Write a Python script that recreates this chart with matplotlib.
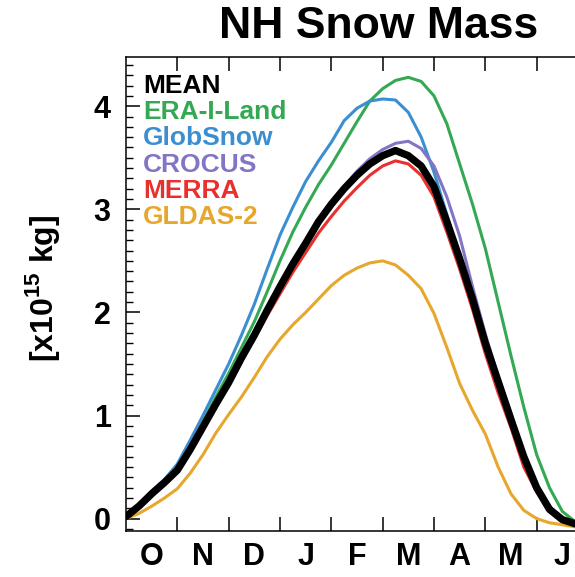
import numpy as np
import matplotlib
matplotlib.use('Agg')
import matplotlib.pyplot as plt
from matplotlib.ticker import MultipleLocator

# Время: месяцы от 1 октября (0 = 1 окт, 9 = 1 июля)
months = [0.0, 0.25, 0.5, 0.75, 1.0, 1.25, 1.5, 1.75, 2.0, 2.25, 2.5, 2.75,
          3.0, 3.25, 3.5, 3.75, 4.0, 4.25, 4.5, 4.75, 5.0, 5.25, 5.5, 5.75,
          6.0, 6.25, 6.5, 6.75, 7.0, 7.25, 7.5, 7.75, 8.0, 8.25, 8.5, 8.75, 9.0]

# Снежная масса, x10^15 kg
mean_vals = [0.02, 0.12, 0.24, 0.35, 0.47, 0.67, 0.89, 1.11, 1.32, 1.56, 1.78, 2.02,
             2.25, 2.47, 2.67, 2.88, 3.05, 3.20, 3.33, 3.44, 3.52, 3.57, 3.52, 3.42,
             3.22, 2.88, 2.52, 2.13, 1.70, 1.33, 0.96, 0.60, 0.30, 0.09, -0.01, -0.05, -0.06]
era_vals = [0.02, 0.12, 0.24, 0.36, 0.49, 0.70, 0.94, 1.18, 1.41, 1.66, 1.91, 2.20,
            2.50, 2.78, 3.02, 3.24, 3.43, 3.64, 3.85, 4.05, 4.17, 4.25, 4.28, 4.24,
            4.10, 3.83, 3.44, 3.05, 2.62, 2.10, 1.58, 1.08, 0.62, 0.30, 0.07, -0.03, -0.06]
glob_vals = [0.02, 0.12, 0.25, 0.38, 0.53, 0.76, 1.00, 1.25, 1.50, 1.78, 2.08, 2.42,
             2.75, 3.02, 3.27, 3.47, 3.65, 3.86, 3.98, 4.05, 4.07, 4.06, 3.94, 3.70,
             3.36, 2.95, 2.53, 2.10, 1.66, 1.28, 0.92, 0.55, 0.27, 0.07, -0.02, -0.05, -0.06]
crocus_vals = [0.03, 0.14, 0.27, 0.38, 0.50, 0.68, 0.89, 1.09, 1.29, 1.52, 1.74, 1.97,
               2.20, 2.43, 2.64, 2.85, 3.04, 3.22, 3.37, 3.49, 3.58, 3.64, 3.66, 3.59,
               3.42, 3.12, 2.74, 2.25, 1.79, 1.38, 1.02, 0.62, 0.32, 0.12, 0.00, -0.04, -0.06]
merra_vals = [0.02, 0.12, 0.24, 0.35, 0.47, 0.66, 0.88, 1.09, 1.30, 1.53, 1.75, 1.97,
              2.18, 2.39, 2.58, 2.77, 2.93, 3.08, 3.21, 3.33, 3.42, 3.47, 3.44, 3.33,
              3.12, 2.78, 2.42, 2.03, 1.60, 1.22, 0.88, 0.50, 0.26, 0.07, -0.02, -0.05, -0.06]
gldas_vals = [0.00, 0.05, 0.12, 0.20, 0.29, 0.44, 0.62, 0.83, 1.01, 1.18, 1.37, 1.57,
              1.74, 1.88, 2.00, 2.13, 2.26, 2.36, 2.43, 2.48, 2.50, 2.46, 2.36, 2.23,
              1.99, 1.66, 1.31, 1.05, 0.82, 0.50, 0.24, 0.08, 0.00, -0.04, -0.06, -0.08, -0.08]

month_labels = ['O', 'N', 'D', 'J', 'F', 'M', 'A', 'M', 'J']

names = ['MEAN', 'ERA-I-Land', 'GlobSnow', 'CROCUS', 'MERRA', 'GLDAS-2']
colors = ['black', '#35a853', '#3b8fd0', '#8275c4', '#e8312e', '#e6a72c']
series = [mean_vals, era_vals, glob_vals, crocus_vals, merra_vals, gldas_vals]

plt.rcParams['font.family'] = ['Liberation Sans', 'DejaVu Sans']
plt.rcParams['font.weight'] = 'bold'
plt.rcParams['mathtext.fontset'] = 'custom'
plt.rcParams['mathtext.rm'] = 'Liberation Sans:bold'
plt.rcParams['mathtext.bf'] = 'Liberation Sans:bold'

fig = plt.figure(figsize=(5.75, 5.77), dpi=100)
# правая граница осей уходит за край картинки, как в оригинале
ax = fig.add_axes([126 / 575, 46 / 577, 462 / 575, 474.3 / 577])

# сначала модели, среднее поверх
for vals, c in list(zip(series, colors))[1:]:
    ax.plot(months, vals, color=c, lw=2.2, solid_capstyle='round', solid_joinstyle='round')
ax.plot(months, mean_vals, color='black', lw=5.3, solid_capstyle='round', solid_joinstyle='round')

ax.set_xlim(0, 9)
ax.set_ylim(-0.12, 4.48)

# границы месяцев - деления, подписи по центру месяца
ax.set_xticks(np.arange(1, 9))
ax.set_xticklabels([])
ax.set_xticks(np.arange(9) + 0.5, minor=True)
ax.set_xticklabels(month_labels, minor=True, fontsize=22, fontweight='bold')
ax.tick_params(axis='x', which='major', direction='in', length=10, width=1.1, top=True)
ax.tick_params(axis='x', which='minor', length=0, pad=8)

ax.set_yticks([0, 1, 2, 3, 4])
ax.set_yticklabels(['0', '1', '2', '3', '4'], fontsize=22, fontweight='bold')
ax.yaxis.set_minor_locator(MultipleLocator(0.1))
ax.tick_params(axis='y', which='major', direction='in', length=10, width=1.1, pad=11)
ax.tick_params(axis='y', which='minor', direction='in', length=5, width=1.0)

for s in ax.spines.values():
    s.set_linewidth(1.1)

# подписи рядов вместо легенды
for i, (name, c) in enumerate(zip(names, colors)):
    ax.text(0.037, 0.939 - i * 0.0555, name, color=c, fontsize=19,
            fontweight='bold', transform=ax.transAxes, va='center', ha='left')

fig.text(379 / 575, 1 - 26 / 577, 'NH Snow Mass', fontsize=32, fontweight='bold',
         ha='center', va='center')
fig.text(42 / 575, 1 - 288 / 577, r'[x10$^{\mathbf{15}}$ kg]', fontsize=23,
         fontweight='bold', rotation=90, ha='center', va='center')

fig.savefig('out.png', dpi=100)
